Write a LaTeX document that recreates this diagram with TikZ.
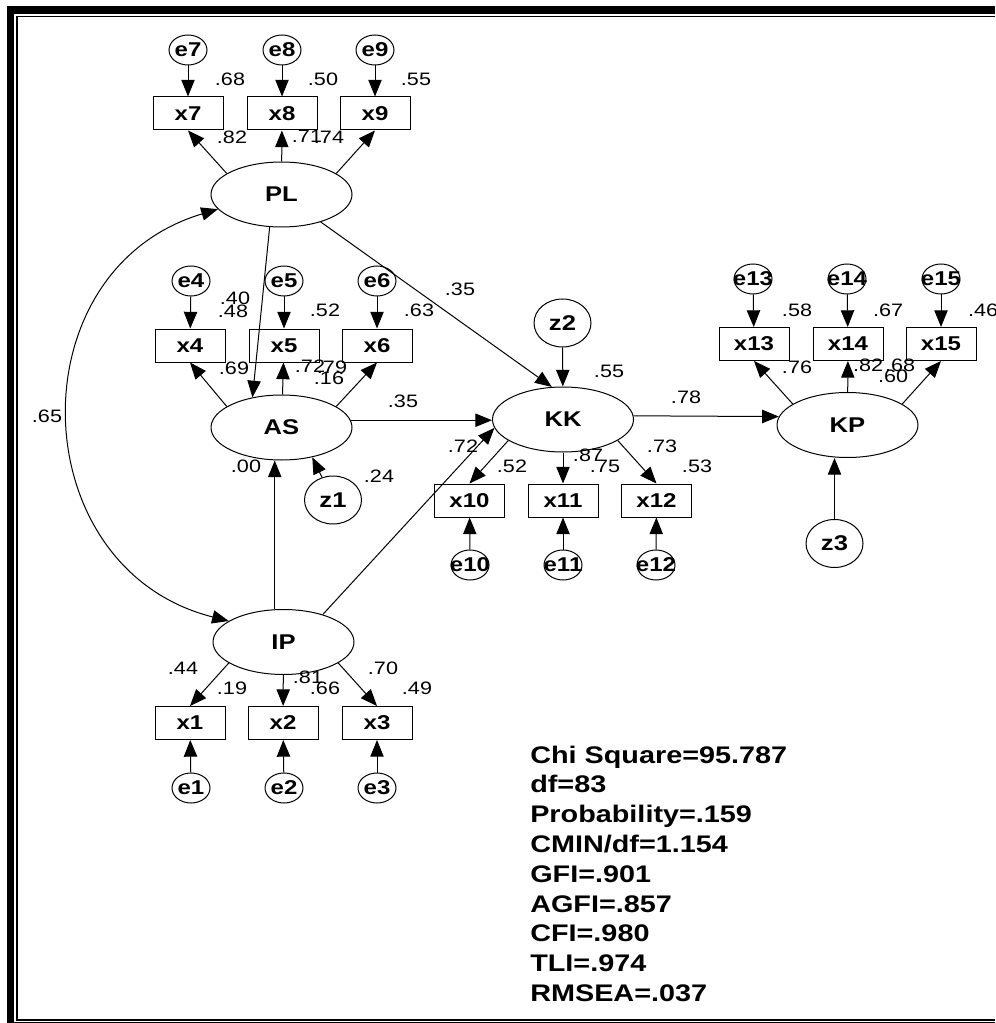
\documentclass[tikz,border=0pt]{standalone}
\usepackage{fontspec}
\setmainfont[FakeStretch=1.2]{Liberation Sans}
\usepackage{tikz}
\usetikzlibrary{arrows.meta,shapes.geometric}

\begin{document}
\begin{tikzpicture}[
  x=0.75pt,
  y=0.75pt,
  latent/.style={draw, ellipse, line width=0.75pt, inner sep=0pt, minimum width=105.75pt, minimum height=48.75pt, font=\bfseries\fontsize{16}{18}\selectfont},
  obs/.style={draw, rectangle, line width=0.75pt, inner sep=0pt, minimum width=52.5pt, minimum height=24.75pt, font=\bfseries\fontsize{15}{17}\selectfont},
  err/.style={draw, ellipse, line width=0.75pt, inner sep=0pt, minimum width=28.5pt, minimum height=22.5pt,
    label={[font=\bfseries\fontsize{15}{17}\selectfont]center:#1}},
  dist/.style={draw, ellipse, line width=0.75pt, inner sep=0pt, minimum width=42.75pt, minimum height=36pt, font=\bfseries\fontsize{16}{18}\selectfont},
  coef/.style={inner sep=0pt, font=\fontsize{13.5}{16}\selectfont},
  stat/.style={anchor=base west, inner sep=0pt, font=\bfseries\fontsize{18}{22}\selectfont},
  arrow/.style={-{Triangle[length=12.5pt,width=10pt]}, line width=0.75pt},
  both/.style={{Triangle[length=12.5pt,width=10pt]}-{Triangle[length=12.5pt,width=10pt]}, line width=0.75pt}
]
  \useasboundingbox (0,0) rectangle (995,-1023);

  % frame
  \fill (7,-6) rectangle (995,-14);
  \fill (7,-6) rectangle (14,-1023);
  \fill (16,-16) rectangle (995,-17.5);
  \fill (16,-16) rectangle (17.5,-1020.5);
  \fill (16,-1019) rectangle (995,-1020.5);
  \fill (7,-1022) rectangle (995,-1024);

  % PL block
  \node[err=e7] (e7) at (188,-50) {};
  \node[err=e8] (e8) at (282,-50) {};
  \node[err=e9] (e9) at (375,-50) {};
  \node[obs] (x7) at (188,-113.5) {x7};
  \node[obs] (x8) at (282,-113.5) {x8};
  \node[obs] (x9) at (375,-113.5) {x9};
  \node[latent] (PL) at (281.5,-194.5) {PL};

  % AS block
  \node[err=e4] (e4) at (191,-281) {};
  \node[err=e5] (e5) at (284,-281) {};
  \node[err=e6] (e6) at (377,-281) {};
  \node[obs] (x4) at (190,-345.5) {x4};
  \node[obs] (x5) at (284,-345.5) {x5};
  \node[obs] (x6) at (377,-345.5) {x6};
  \node[latent] (AS) at (281.5,-427.5) {AS};
  \node[dist] (z1) at (333,-500) {z1};

  % KK block
  \node[dist] (z2) at (562.5,-323) {z2};
  \node[latent] (KK) at (563,-419.5) {KK};
  \node[obs] (x10) at (469.5,-500.5) {x10};
  \node[obs] (x11) at (563,-500.5) {x11};
  \node[obs] (x12) at (656.5,-500.5) {x12};
  \node[err=e10] (e10) at (470,-565) {};
  \node[err=e11] (e11) at (563,-565) {};
  \node[err=e12] (e12) at (656,-565) {};

  % KP block
  \node[err=e13] (e13) at (753,-279) {};
  \node[err=e14] (e14) at (847,-279) {};
  \node[err=e15] (e15) at (941,-279) {};
  \node[obs] (x13) at (754,-344) {x13};
  \node[obs] (x14) at (848,-344) {x14};
  \node[obs] (x15) at (941,-344) {x15};
  \node[latent] (KP) at (847.5,-425) {KP};
  \node[dist] (z3) at (834.5,-543.5) {z3};

  % IP block
  \node[latent] (IP) at (283.5,-642) {IP};
  \node[obs] (x1) at (190,-723) {x1};
  \node[obs] (x2) at (283,-723) {x2};
  \node[obs] (x3) at (377,-723) {x3};
  \node[err=e1] (e1) at (191,-788) {};
  \node[err=e2] (e2) at (284,-788) {};
  \node[err=e3] (e3) at (377,-788) {};

  % measurement paths
  \draw[arrow] (PL.159) -- (x7.south);
  \draw[arrow] (PL) -- (x8);
  \draw[arrow] (PL.21) -- (x9.south);
  \draw[arrow] (AS.159) -- (x4.south);
  \draw[arrow] (AS) -- (x5);
  \draw[arrow] (AS.21) -- (x6.south);
  \draw[arrow] (KK.201) -- (x10.north);
  \draw[arrow] (KK) -- (x11);
  \draw[arrow] (KK.339) -- (x12.north);
  \draw[arrow] (KP.159) -- (x13.south);
  \draw[arrow] (KP) -- (x14);
  \draw[arrow] (KP.21) -- (x15.south);
  \draw[arrow] (IP.201) -- (x1.north);
  \draw[arrow] (IP) -- (x2);
  \draw[arrow] (IP.339) -- (x3.north);

  % error terms
  \foreach \e/\x in {e7/x7,e8/x8,e9/x9,e4/x4,e5/x5,e6/x6,e10/x10,e11/x11,e12/x12,e13/x13,e14/x14,e15/x15,e1/x1,e2/x2,e3/x3}
    \draw[arrow] (\e) -- (\x);
  \draw[arrow] (z1) -- (AS.316);
  \draw[arrow] (z2) -- (KK);
  \draw[arrow] (z3) -- (z3 |- KP.south);

  % structural paths
  \draw[arrow] (PL.250) -- (AS.134);
  \draw[arrow] (PL.325) -- (KK.109);
  \draw[arrow] (AS.6) -- (AS.6 -| KK.west);
  \draw[arrow] (IP.35) -- (KK.187);
  \draw[arrow] (IP.105) -- (IP.105 |- AS.south);
  \draw[arrow] (KK.3) -- (KP.173);
  \draw[both] (PL.193) .. controls (14,-270) and (22,-569) .. (IP.159);

  % estimates
  \foreach \v/\x/\y [count=\i] in {
      .68/230/79, .50/323/79, .55/416/79, .82/232/137, .71/307/136, .74/329/137,
      .40/235/298, .48/233/311, .52/325/310, .63/419/310, .69/234/368, .72/310/366,
      .79/332/367, .16/329/378, .35/403/401, .35/460/289, .65/47/416, .00/246/466,
      .24/379/476, .55/609/371, .78/686/397, .72/463/446, .52/512/466, .87/588/455,
      .75/605/466, .73/662/446, .53/697/466, .58/797/310, .67/888/310, .46/983/310,
      .76/797/367, .82/868/365, .68/900/365, .60/893/376, .44/183/668, .19/232/688,
      .81/308/677, .66/325/688, .70/383/668, .49/417/688}
    \node[coef] (c\i) at (\x,-\y) {\v};

  % fit indices
  \foreach \t [count=\i] in {Chi Square=95.787, df=83, Probability=.159, CMIN/df=1.154,
      GFI=.901, AGFI=.857, CFI=.980, TLI=.974, RMSEA=.037}
    \node[stat] (stat\i) at (530,{-763-(\i-1)*29.8}) {\t};
\end{tikzpicture}
\end{document}
